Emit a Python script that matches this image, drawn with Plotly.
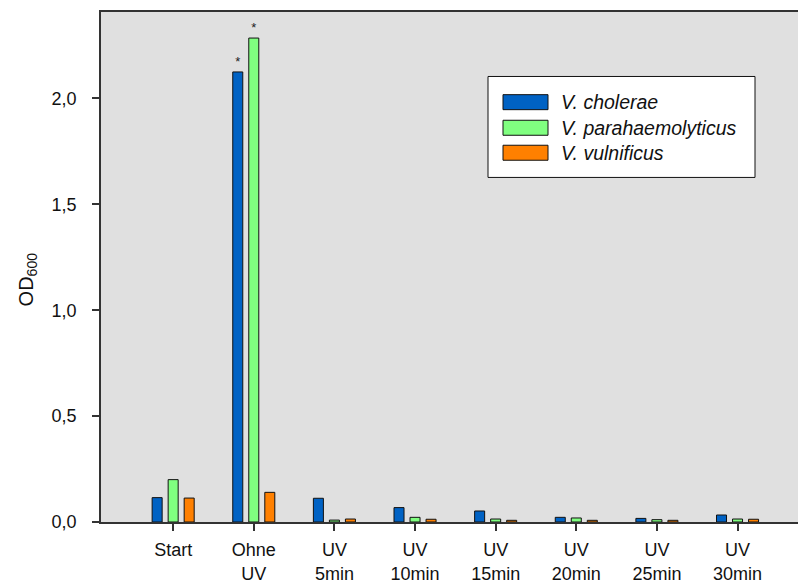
import plotly.graph_objects as go

# Categories and OD600 readings per species
categories = ["Start", "Ohne<br>UV", "UV<br>5min", "UV<br>10min", "UV<br>15min",
              "UV<br>20min", "UV<br>25min", "UV<br>30min"]
species = ["V. cholerae", "V. parahaemolyticus", "V. vulnificus"]
cholerae = [0.115, 2.125, 0.112, 0.068, 0.052, 0.022, 0.017, 0.033]
parahaemolyticus = [0.200, 2.285, 0.009, 0.022, 0.014, 0.019, 0.011, 0.014]
vulnificus = [0.113, 0.140, 0.014, 0.013, 0.008, 0.008, 0.008, 0.013]
significance = [["", "*", "", "", "", "", "", ""],
                ["", "*", "", "", "", "", "", ""],
                ["", "", "", "", "", "", "", ""]]
y_ticks = [0.0, 0.5, 1.0, 1.5, 2.0]

colors = ["#0062C4", "#80FF80", "#FF8000"]
series = [cholerae, parahaemolyticus, vulnificus]
FONT = "Liberation Sans, Arial, sans-serif"

fig = go.Figure()
for name, vals, col, stars in zip(species, series, colors, significance):
    fig.add_trace(go.Bar(
        x=categories, y=vals, name=name,
        marker=dict(color=col, line=dict(color="#111111", width=1)),
        text=stars, textposition="outside", cliponaxis=False,
        textfont=dict(size=13, color="#222222", family=FONT),
        showlegend=False,
    ))

# plot area in pixels (for placing the legend box)
L, R, T, B = 101, 798, 11.5, 521.7
def px(x):
    return (x - L) / (R - L)
def py(y):
    return (B - y) / (B - T)

shapes = [dict(type="rect", xref="paper", yref="paper",
               x0=px(488), x1=px(755), y0=py(177), y1=py(76),
               fillcolor="white", line=dict(color="#111111", width=1))]
annotations = []
row_centers = [101.7, 127.3, 152.3]
for name, col, yc in zip(species, colors, row_centers):
    shapes.append(dict(type="rect", xref="paper", yref="paper",
                       x0=px(503), x1=px(548), y0=py(yc + 7.5), y1=py(yc - 7.5),
                       fillcolor=col, line=dict(color="#111111", width=1)))
    annotations.append(dict(text="<i>" + name + "</i>", xref="paper", yref="paper",
                            x=px(559), y=py(yc), xanchor="left", yanchor="middle",
                            showarrow=False,
                            font=dict(size=19.5, color="#111111", family=FONT)))

annotations.append(dict(text="OD<sub>600</sub>", xref="paper", yref="paper",
                        x=px(27), y=py(279), xanchor="center", yanchor="middle",
                        textangle=-90, showarrow=False,
                        font=dict(size=20, color="#111111", family=FONT)))

fig.update_layout(
    width=798, height=583,
    margin=dict(l=L, r=798 - R, t=T, b=583 - B, pad=0),
    paper_bgcolor="white", plot_bgcolor="#E0E0E0",
    barmode="group", bargap=0.404, bargroupgap=0.375,
    separators=", ",
    font=dict(family=FONT, size=18, color="#111111"),
    shapes=shapes, annotations=annotations,
    xaxis=dict(range=[-0.895, 7.75], showgrid=False, zeroline=False,
               showline=True, linecolor="#333333", linewidth=1.5, mirror=True,
               ticks="outside", ticklen=7, tickcolor="#333333", tickwidth=1.5,
               ticklabelstandoff=4,
               tickfont=dict(size=18, family=FONT, color="#111111")),
    yaxis=dict(range=[0, 2.408], showgrid=False, zeroline=False,
               showline=True, linecolor="#333333", linewidth=1.5,
               ticks="outside", ticklen=7, tickcolor="#333333", tickwidth=1.5,
               ticklabelstandoff=12,
               tickvals=y_ticks, tickformat=".1f",
               tickfont=dict(size=18, family=FONT, color="#111111")),
)

fig.write_html("out.html")
